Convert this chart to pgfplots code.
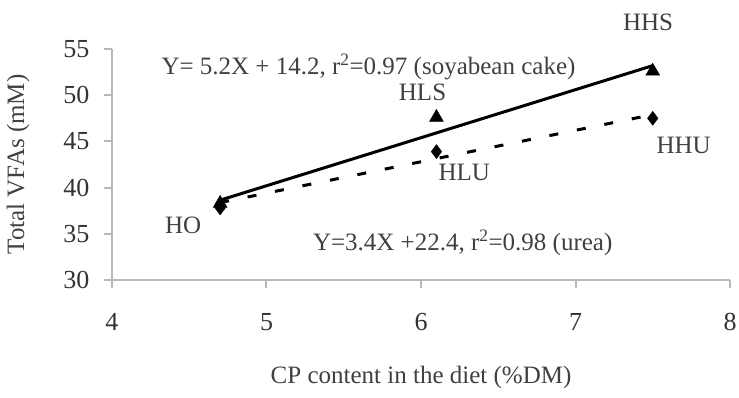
\documentclass[border=0pt]{standalone}
\usepackage{fontspec}
\setmainfont{Liberation Serif}
\usepackage{pgfplots}
\pgfplotsset{compat=1.18}
\begin{document}
\begin{tikzpicture}
\useasboundingbox (-112pt,-117pt) rectangle (627pt,280pt);
\begin{axis}[
  at={(0,0)}, anchor=south west, scale only axis,
  width=618pt, height=231pt,
  xmin=4, xmax=8, ymin=30, ymax=55,
  xtick={4,5,6,7,8}, ytick={30,35,40,45,50,55},
  axis x line=bottom, axis y line=left,
  x axis line style={-, draw=gray!55, line width=2.5pt},
  y axis line style={-, draw=gray!55, line width=2.5pt},
  every tick/.append style={draw=gray!55, line width=2pt},
  major tick length=8pt, tick align=outside,
  /pgf/number format/assume math mode=true,
  tick label style={font=\fontsize{26}{28}\selectfont, text=black!80},
  xticklabel style={yshift=-22pt},
  yticklabel style={xshift=-11pt},
  xlabel={CP content in the diet (\%DM)},
  ylabel={Total VFAs (mM)},
  label style={font=\fontsize{25}{28}\selectfont, text=black!75},
  xlabel style={at={(axis description cs:0.5,-0.424)}, anchor=center},
  ylabel style={at={(axis description cs:-0.152,0.5)}, anchor=center},
  clip=false,
]
\addplot[only marks, mark=triangle*, mark size=8pt, black] coordinates {(4.7,38.3)(6.1,47.6)(7.5,52.6)};
\addplot[only marks, mark=diamond*, mark size=7pt, black] coordinates {(4.7,37.8)(6.1,43.9)(7.5,47.5)};
\addplot[black, line width=3pt] coordinates {(4.7,38.64)(7.5,53.2)};
\addplot[black, line width=3pt, dash pattern=on 9pt off 19pt] coordinates {(4.7,38.38)(7.5,47.9)};
\begin{scope}[every node/.style={font=\fontsize{25}{28}\selectfont, text=black!75}]
\node at (axis cs:7.47,57.9) {HHS};
\node at (axis cs:6.01,50.35) {HLS};
\node at (axis cs:6.28,41.6) {HLU};
\node at (axis cs:7.70,44.6) {HHU};
\node at (axis cs:4.46,35.95) {HO};
\node at (axis cs:5.66,53.1) {Y= 5.2X + 14.2, r\textsuperscript{2}=0.97 (soyabean cake)};
\node at (axis cs:6.27,34.0) {Y=3.4X +22.4, r\textsuperscript{2}=0.98 (urea)};
\end{scope}
\end{axis}
\end{tikzpicture}
\end{document}
